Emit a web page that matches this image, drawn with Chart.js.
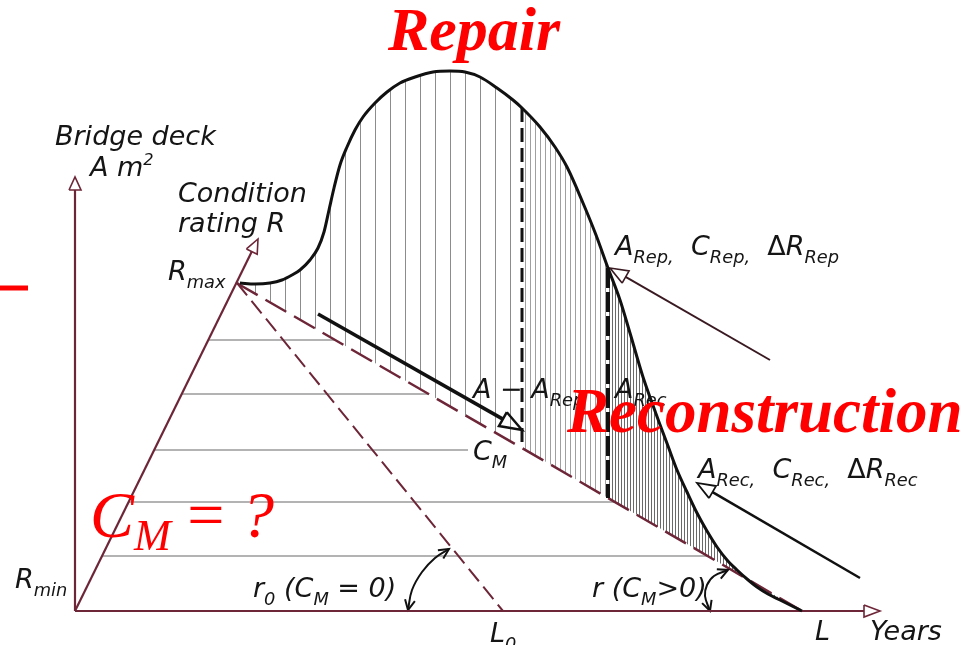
<!DOCTYPE html>
<html><head><meta charset="utf-8">
<script src="https://cdn.jsdelivr.net/npm/chart.js@4.4.0/dist/chart.umd.min.js"></script>
<style>html,body{margin:0;padding:0;background:#fff;overflow:hidden}canvas{display:block}</style>
</head><body>
<canvas id="c" width="980" height="645"></canvas>
<script>
// Diagram units: x = years axis, y = deck area / condition; origin at the axes corner.
const curveX = [165,180,195,207,217,225,235,243,249,254,259,265,272,280,288,300,312,325,340,358,375,390,405,422,438,447,465,480,492,508,521,533,545,555,568,576,584,593,602,612,622,632,642,652,662,672,682,693,705,717,727];
const curveY = [328,327,328,331,336,341,351,363,379,401,423,446,464,481,494,508,519,528,534,539,540,539,534,523,511,503,484,464,444,408,376,343,311,278,234,211,189,165,141,119,98,80,64,51,41,32,24,17,11,5,0];
const baseX = [162,165,447,533,727];          // r (C_M>0) line, Rmax -> L
const baseY = [328,326,163,113,0];
const l0X = [162,428];                          // r0 (C_M=0) line, Rmax -> L0
const l0Y = [328,0];
const repairX = 447, repairTopY = 503, repairBottomY = 163;
const recX = 533, recTopY = 343, recBottomY = 113;
const gridY = [271,217,161,109,55];
const gridStartX = [134,107,80,54,27];
const gridEndX = [260,353,393,539,632];
const axisOrigin = [0,0];
const axisAreaTip = [0,434];
const axisYearsTip = [805,0];
const axisRTip = [183,372];
const arrowMain = [[243,297],[447,181]];
const arrowRep = [[695,251],[535,343]];
const arrowRec = [[785,33],[622,128]];
const arcR0X = [333,337,347,360,374], arcR0Y = [1,21,39,53,62];
const arcRX = [635,630,632,639,653], arcRY = [0,15,26,35,41];
const redMark = [[-75,323],[-47,323]];

const SANS = "'DejaVu Sans', sans-serif";
const SERIF = "'Liberation Serif', 'Times New Roman', serif";
const labels = [
  {at:[-20,466], runs:[['Bridge deck']]},
  {at:[15,435], runs:[['A m'],['2','sup']]},
  {at:[103,409], runs:[['Condition']]},
  {at:[103,379], runs:[['rating R']]},
  {at:[93,331], runs:[['R'],['max','sub']]},
  {at:[-60,23], runs:[['R'],['min','sub']]},
  {at:[178,14], runs:[['r'],['0','sub'],[' (C'],['M','sub'],[' = 0)']]},
  {at:[415,-31], runs:[['L'],['0','sub']]},
  {at:[517,14], runs:[['r (C'],['M','sub'],['>0)']]},
  {at:[740,-29], runs:[['L']]},
  {at:[795,-29], runs:[['Years']]},
  {at:[540,356], runs:[['A'],['Rep,','sub'],['  C'],['Rep,','sub'],['  '],['\u0394','up'],['R'],['Rep','sub']]},
  {at:[623,133], runs:[['A'],['Rec,','sub'],['  C'],['Rec,','sub'],['  '],['\u0394','up'],['R'],['Rec','sub']]},
  {at:[398,213], runs:[['A \u2212 A'],['Rep','sub']]},
  {at:[540,213], runs:[['A'],['Rec','sub']]},
  {at:[398,151], runs:[['C'],['M','sub']]},
  {at:[313,561], family:SERIF, weight:'bold', size:62, color:'#ff0000', runs:[['Repair']]},
  {at:[492,179], family:SERIF, weight:'bold', size:63, color:'#ff0000', runs:[['Reconstruction']]},
  {at:[15,74], family:SERIF, size:66, color:'#ff0000', subScale:0.67, subDy:0.19, runs:[['C'],['M','sub'],[' = ','up'],['?']]}
];

const MAROON = '#6d2638';
const canvas = document.getElementById('c');
const ctx = canvas.getContext('2d');
const pts = (xs, ys) => xs.map((x, i) => ({x, y: ys[i]}));
const P = a => ({x: a[0], y: a[1]});

function hatch(step, color, w) {
  const c = document.createElement('canvas'); c.width = step; c.height = 4;
  const g = c.getContext('2d'); g.fillStyle = color; g.fillRect(0, 0, w, 4);
  return ctx.createPattern(c, 'repeat');
}
function head(tail, tip, len, hw, closed) {
  const dx = tip[0]-tail[0], dy = tip[1]-tail[1], d = Math.hypot(dx, dy);
  const ux = dx/d, uy = dy/d, bx = tip[0]-ux*len, by = tip[1]-uy*len;
  const p1 = {x: bx - uy*hw, y: by + ux*hw}, p2 = {x: bx + uy*hw, y: by - ux*hw};
  return {pts: closed ? [p1, P(tip), p2, p1] : [p1, P(tip), p2], base: [bx, by]};
}

const ds = [];
function add(o) {
  ds.push(Object.assign({pointRadius:0, borderWidth:2, tension:0, fill:false, borderColor:'#000', borderJoinStyle:'miter'}, o));
  return ds.length - 1;
}
function arrow(tail, tip, len, hw, color, width, order, shaftToTip) {
  const h = head(tail, tip, len, hw, true);
  add({data:[P(tail), shaftToTip ? P(tip) : P(h.base)], borderColor:color, borderWidth:width, order});
  add({data:h.pts, borderColor:color, borderWidth:Math.max(1.6, width*0.7), order});
}

// curve line
add({data:pts(curveX, curveY), borderColor:'#111', borderWidth:3, cubicInterpolationMode:'monotone', order:1});
// dashed verticals
add({data:[{x:repairX,y:repairTopY},{x:repairX,y:repairBottomY}], borderColor:'#111', borderWidth:3, borderDash:[14,6], order:2});
add({data:[{x:recX,y:recTopY},{x:recX,y:recBottomY}], borderColor:'#111', borderWidth:4, borderDash:[20,4], order:2});
// arrows
arrow(axisOrigin, axisAreaTip, 13, 6, MAROON, 2.2, 3);
arrow(axisOrigin, axisYearsTip, 16, 6, MAROON, 2.2, 3);
arrow(axisOrigin, axisRTip, 14, 6, MAROON, 2.2, 3);
arrow(arrowMain[0], arrowMain[1], 22, 8, '#111', 3.5, 3, false);
arrow(arrowRep[0], arrowRep[1], 18, 7, '#3a1a22', 2, 3);
arrow(arrowRec[0], arrowRec[1], 18, 7, '#111', 2.5, 3);
// angle arcs
add({data:pts(arcR0X, arcR0Y), borderColor:'#111', borderWidth:2, tension:0.4, order:3});
add({data:head([arcR0X[1],arcR0Y[1]],[arcR0X[0],arcR0Y[0]],10,5,false).pts, borderColor:'#111', borderWidth:2, order:3});
add({data:head([arcR0X[3],arcR0Y[3]],[arcR0X[4],arcR0Y[4]],10,5,false).pts, borderColor:'#111', borderWidth:2, order:3});
add({data:pts(arcRX, arcRY), borderColor:'#111', borderWidth:2, tension:0.4, order:3});
add({data:head([arcRX[1],arcRY[1]],[arcRX[0],arcRY[0]],10,5,false).pts, borderColor:'#111', borderWidth:2, order:3});
add({data:head([arcRX[3],arcRY[3]],[arcRX[4],arcRY[4]],10,5,false).pts, borderColor:'#111', borderWidth:2, order:3});
// base slanted line (fill target)
const baseIdx = add({data:pts(baseX, baseY), borderColor:MAROON, borderWidth:2.5, borderDash:[24,9], order:4});
// r0 line
add({data:pts(l0X, l0Y), borderColor:MAROON, borderWidth:2, borderDash:[16,7], order:5});
// grid levels
gridY.forEach((y, i) => add({data:[{x:gridStartX[i],y},{x:gridEndX[i],y}], borderColor:'#9a9a9a', borderWidth:1.3, order:6}));
// red mark
add({data:redMark.map(P), borderColor:'#ff0000', borderWidth:5, order:1});
// hatched fills
const part1 = pts(curveX, curveY).filter(p => p.x <= repairX);
const part2 = pts(curveX, curveY).filter(p => p.x >= repairX && p.x <= recX);
const part3 = pts(curveX, curveY).filter(p => p.x >= recX);
[[part1, hatch(15,'#8c8c8c',1)], [part2, hatch(5,'#a0a0a0',1)], [part3, hatch(3,'#6a6a6a',1)]].forEach(([d, pat]) =>
  add({data:d, borderWidth:0, borderColor:'rgba(0,0,0,0)', cubicInterpolationMode:'monotone', fill:{target:baseIdx}, backgroundColor:pat, order:10}));

const textPlugin = {
  id:'texts',
  afterDatasetsDraw(chart) {
    const c = chart.ctx, xs = chart.scales.x, ys = chart.scales.y;
    c.save();
    c.textBaseline = 'alphabetic'; c.textAlign = 'left';
    for (const lab of labels) {
      let x = xs.getPixelForValue(lab.at[0]);
      const y = ys.getPixelForValue(lab.at[1]);
      const size0 = lab.size || 27, fam = lab.family || SANS;
      c.fillStyle = lab.color || '#151515';
      for (const [t, kind] of lab.runs) {
        let size = size0, dy = 0, style = 'italic';
        if (kind === 'sub') { size = size0*(lab.subScale||0.66); dy = size0*(lab.subDy||0.3); }
        if (kind === 'sup') { size = size0*0.6; dy = -size0*0.42; }
        if (kind === 'up') style = 'normal';
        c.font = `${style} ${lab.weight||'normal'} ${size}px ${fam}`;
        c.fillText(t, x, y + dy);
        x += c.measureText(t).width;
      }
    }
    c.restore();
  }
};

new Chart(ctx, {
  type:'line',
  data:{datasets:ds},
  options:{
    responsive:false, animation:false, devicePixelRatio:1,
    layout:{padding:0},
    plugins:{legend:{display:false}, tooltip:{enabled:false}, title:{display:false}},
    scales:{
      x:{type:'linear', min:-75, max:905, display:false},
      y:{type:'linear', min:-34, max:611, display:false}
    }
  },
  plugins:[textPlugin]
});
</script>
</body></html>
